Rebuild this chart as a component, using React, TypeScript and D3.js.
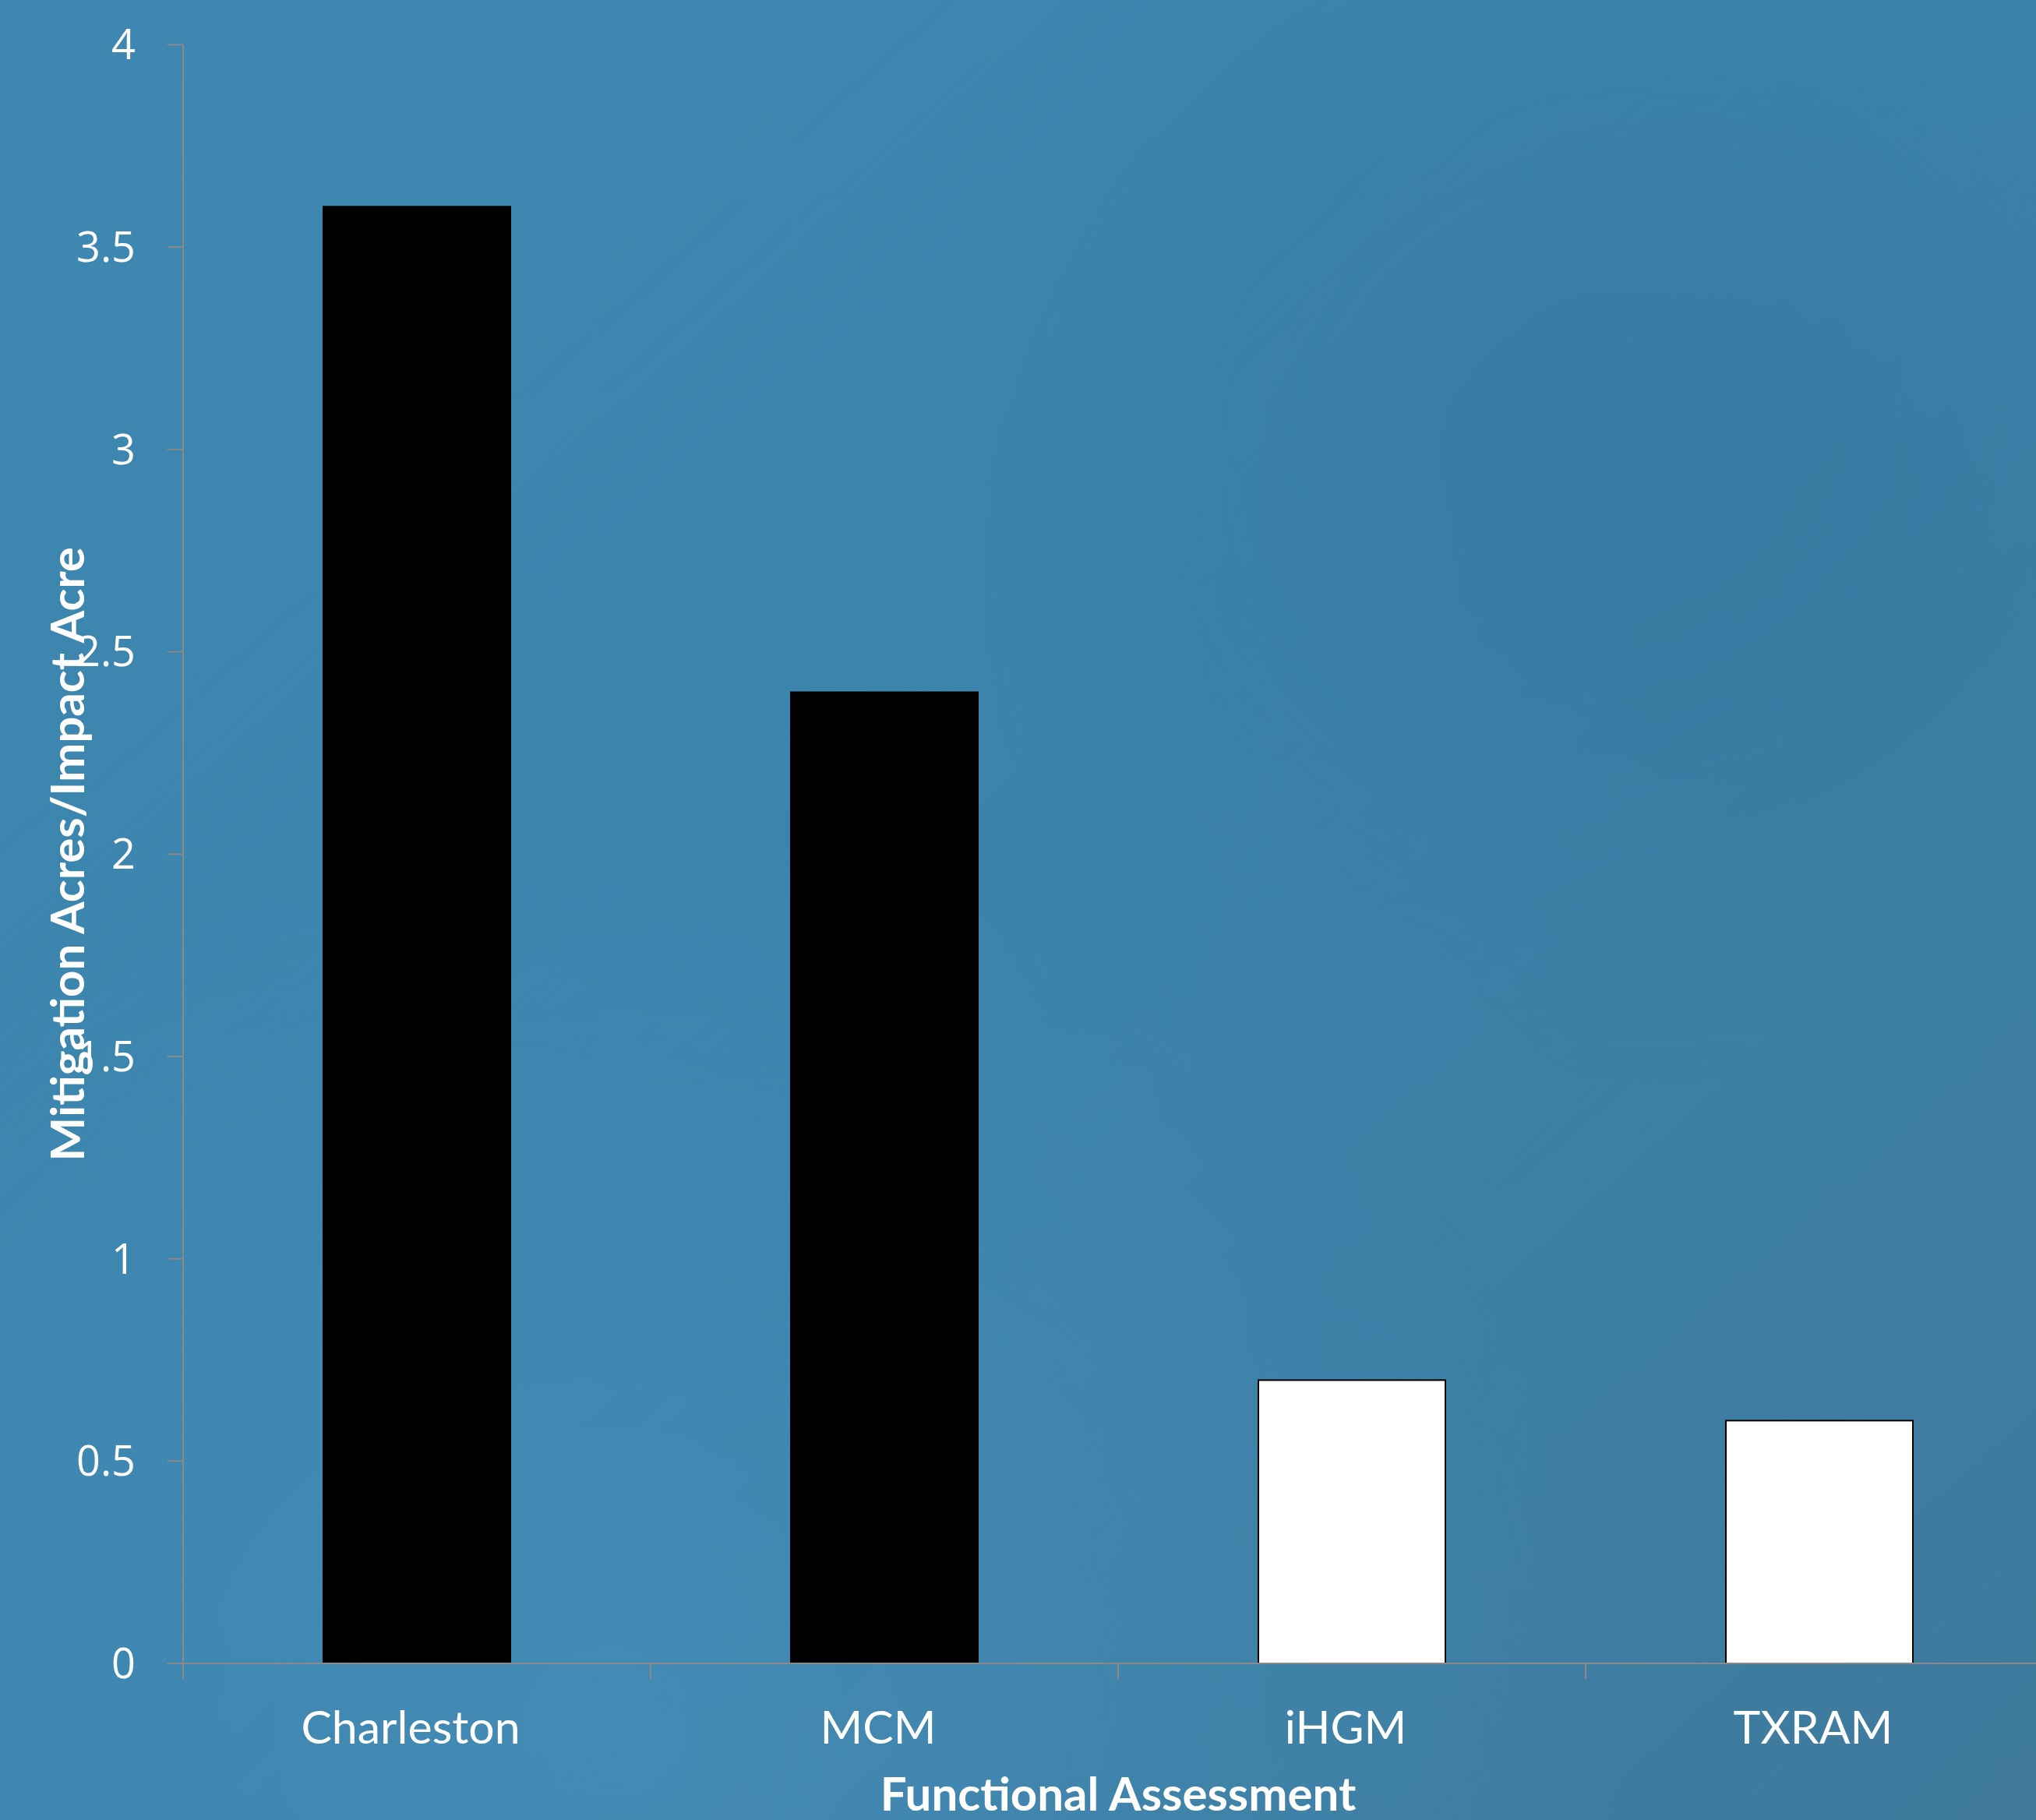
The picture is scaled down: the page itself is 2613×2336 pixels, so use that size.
import React from "react";
import * as d3 from "d3";

const categories = ["Charleston", "MCM", "iHGM", "TXRAM"];
const values = [3.6, 2.4, 0.7, 0.6];
const yTicks = [0, 0.5, 1, 1.5, 2, 2.5, 3, 3.5, 4];
const xTitle = "Functional Assessment";
const yTitle = "Mitigation Acres/Impact Acre";

const W = 2613;
const H = 2336;
const M = { left: 235, top: 57.5, bottom: 2135 };
const barFills = ["#000000", "#000000", "#ffffff", "#ffffff"];

export default function App() {
  const x = d3
    .scaleBand<string>()
    .domain(categories)
    .range([M.left, M.left + 2400])
    .paddingInner(0.6)
    .paddingOuter(0.3);
  const y = d3.scaleLinear().domain([0, 4]).range([M.bottom, M.top]);
  const step = x.step();
  const fmt = d3.format("");
  const axisColor = "#8a8a8a";

  return (
    <div style={{ position: "absolute", left: 0, top: 0, width: W, height: H }}>
      <svg width={W} height={H} style={{ display: "block" }}>
        <defs>
          <linearGradient id="bg" x1="0" y1="0" x2="1" y2="1">
            <stop offset="0" stopColor="#3e88b1" />
            <stop offset="0.5" stopColor="#3b83ab" />
            <stop offset="1" stopColor="#3f7a9c" />
          </linearGradient>
          <radialGradient id="glow" cx="0.3" cy="0.95" r="0.5">
            <stop offset="0" stopColor="#4a95c2" stopOpacity="0.5" />
            <stop offset="1" stopColor="#4a95c2" stopOpacity="0" />
          </radialGradient>
          <radialGradient id="dark" cx="0.8" cy="0.25" r="0.35">
            <stop offset="0" stopColor="#2f6d92" stopOpacity="0.35" />
            <stop offset="1" stopColor="#2f6d92" stopOpacity="0" />
          </radialGradient>
        </defs>
        <rect x={0} y={0} width={W} height={H} fill="url(#bg)" />
        <rect x={0} y={0} width={W} height={H} fill="url(#glow)" />
        <rect x={0} y={0} width={W} height={H} fill="url(#dark)" />

        {/* bars */}
        {categories.map((c, i) => (
          <rect
            key={c}
            x={x(c)}
            y={y(values[i])}
            width={x.bandwidth()}
            height={y(0) - y(values[i])}
            fill={barFills[i]}
            stroke="#000"
            strokeWidth={2}
          />
        ))}

        {/* y axis */}
        <line x1={M.left} x2={M.left} y1={y(4)} y2={y(0)} stroke={axisColor} strokeWidth={2} />
        {yTicks.map((t) => (
          <g key={t}>
            <line x1={M.left - 20} x2={M.left} y1={y(t)} y2={y(t)} stroke={axisColor} strokeWidth={2} />
            <text
              x={174}
              y={y(t)}
              dy="0.35em"
              textAnchor="end"
              fill="#fff"
              fontFamily="'Open Sans', sans-serif"
              fontSize={54}
            >
              {fmt(t)}
            </text>
          </g>
        ))}

        {/* x axis */}
        <line x1={M.left - 20} x2={W} y1={y(0)} y2={y(0)} stroke={axisColor} strokeWidth={2} />
        {d3.range(categories.length + 1).map((i) => (
          <line
            key={i}
            x1={M.left + i * step}
            x2={M.left + i * step}
            y1={y(0)}
            y2={y(0) + 20}
            stroke={axisColor}
            strokeWidth={2}
          />
        ))}
        {categories.map((c) => (
          <text
            key={c}
            x={(x(c) as number) + x.bandwidth() / 2 - 8}
            y={2217}
            dy="0.35em"
            textAnchor="middle"
            fill="#fff"
            fontFamily="Lato, sans-serif"
            fontSize={59}
          >
            {c}
          </text>
        ))}

        {/* titles */}
        <text
          x={M.left + 1200}
          y={2303}
          dy="0.35em"
          textAnchor="middle"
          fill="#fff"
          fontFamily="Lato, sans-serif"
          fontWeight="bold"
          fontSize={60}
        >
          {xTitle}
        </text>
        <text
          transform={`translate(87,${(y(0) + y(4)) / 2}) rotate(-90)`}
          dy="0.35em"
          textAnchor="middle"
          fill="#fff"
          fontFamily="Lato, sans-serif"
          fontWeight="bold"
          fontSize={60}
        >
          {yTitle}
        </text>
      </svg>
    </div>
  );
}
